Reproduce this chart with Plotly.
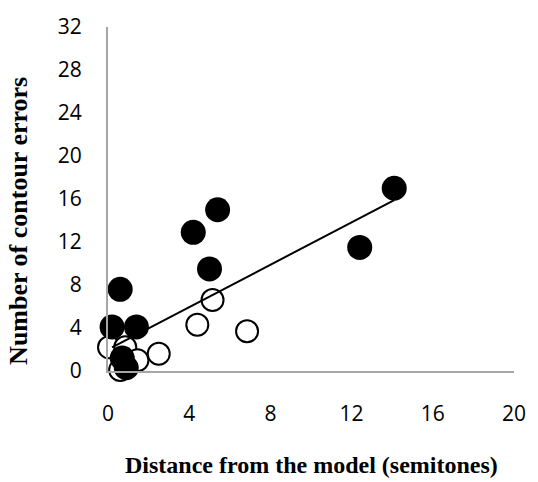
import plotly.graph_objects as go

# Filled series
filled_x = [0.2, 1.4, 0.6, 0.7, 0.9, 4.2, 5.4, 5.0, 12.4, 14.1]
filled_y = [4.1, 4.1, 7.6, 1.2, 0.3, 12.9, 15.0, 9.5, 11.5, 17.0]

# Open series
open_x = [5.15, 4.4, 6.85, 2.5, 0.05, 0.85, 1.45, 0.6]
open_y = [6.6, 4.3, 3.7, 1.6, 2.2, 2.2, 1.0, 0.1]

# Linear trendline endpoints
trend_x = [0.2, 14.1]
trend_y = [2.19, 15.9]

x_ticks = [0, 4, 8, 12, 16, 20]
y_ticks = [0, 4, 8, 12, 16, 20, 24, 28, 32]

x_title = "<b>Distance from the model (semitones)</b>"
y_title = "<b>Number of contour errors</b>"

fig = go.Figure()
fig.add_trace(go.Scatter(
    x=open_x, y=open_y, mode="markers",
    marker=dict(size=22, color="white", line=dict(color="black", width=2)),
    showlegend=False, cliponaxis=False))
fig.add_trace(go.Scatter(
    x=trend_x, y=trend_y, mode="lines",
    line=dict(color="black", width=2), showlegend=False))
fig.add_trace(go.Scatter(
    x=filled_x, y=filled_y, mode="markers",
    marker=dict(size=25, color="black", line=dict(width=0)),
    showlegend=False, cliponaxis=False))

tick_font = dict(family="Open Sans, Lato, sans-serif", size=21, color="black")
x_title_font = dict(family="Liberation Serif, Times New Roman, serif", size=24, color="black")
y_title_font = dict(family="Liberation Serif, Times New Roman, serif", size=26, color="black")

fig.update_layout(
    width=538, height=482,
    margin=dict(l=108, r=19, t=20, b=111),
    paper_bgcolor="white", plot_bgcolor="white",
    xaxis=dict(range=[0, 20], tickvals=x_ticks, showgrid=False, zeroline=False,
               showline=True, linecolor="#a6a6a6", linewidth=2,
               ticks="", tickfont=tick_font, ticklabelstandoff=23),
    yaxis=dict(range=[0, 32], tickvals=y_ticks, showgrid=False, zeroline=False,
               showline=True, linecolor="#a6a6a6", linewidth=2,
               ticks="", tickfont=tick_font, ticklabelstandoff=20),
    annotations=[
        dict(text=x_title, xref="paper", yref="paper", x=0.5, y=-0.274,
             xanchor="center", yanchor="middle", showarrow=False, font=x_title_font),
        dict(text=y_title, xref="paper", yref="paper", x=-0.222, y=0.436,
             xanchor="center", yanchor="middle", textangle=-90, showarrow=False,
             font=y_title_font),
    ],
)

fig.write_html("out.html")
